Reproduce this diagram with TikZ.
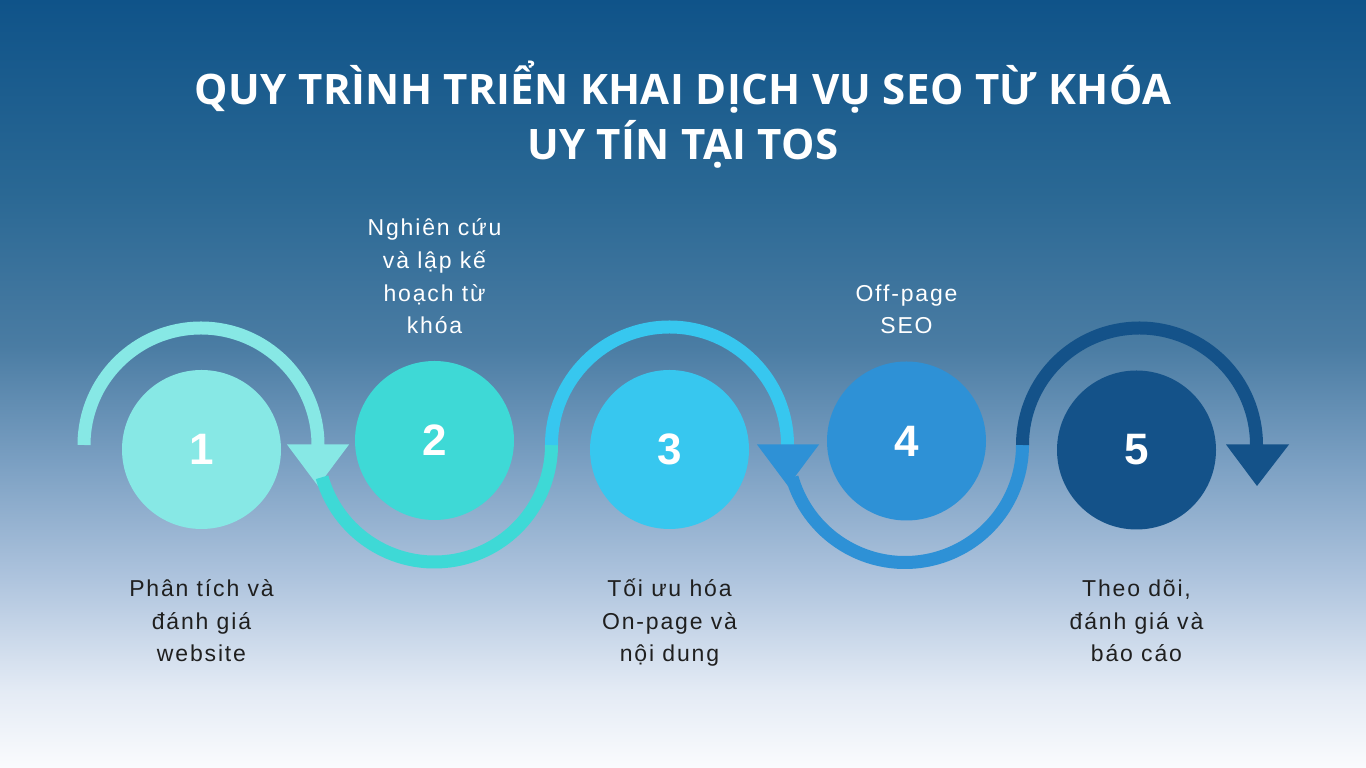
\documentclass[tikz,border=0pt]{standalone}
\usepackage{fontspec}
\setmainfont{Liberation Sans}
\newfontfamily\titlefont{Open Sans}[LetterSpace=1]
\newfontfamily\labelfont{Liberation Sans}[LetterSpace=8]
\definecolor{stepone}{HTML}{87E8E5}
\definecolor{steptwo}{HTML}{3ED9D6}
\definecolor{stepthree}{HTML}{37C7EF}
\definecolor{stepfour}{HTML}{2E91D6}
\definecolor{stepfive}{HTML}{145289}
\definecolor{labeltext}{HTML}{1F1F1F}
\definecolor{bgtop}{HTML}{0F5389}
\definecolor{bgfa}{HTML}{2A6894}
\definecolor{bgfb}{HTML}{4A7CA3}
\definecolor{bgfc}{HTML}{7A9FC2}
\definecolor{bgfd}{HTML}{ADC3DD}
\definecolor{bgfe}{HTML}{E4EBF5}
\definecolor{bgbot}{HTML}{FAFBFD}
\pgfdeclareverticalshading{backfade}{100bp}{color(0bp)=(bgbot); color(25bp)=(bgbot); color(30bp)=(bgfe); color(37.5bp)=(bgfd); color(45bp)=(bgfc); color(52.5bp)=(bgfb); color(62.5bp)=(bgfa); color(75bp)=(bgtop); color(100bp)=(bgtop)}
\tikzset{
  ring/.style={line width=13pt},
  disc/.style={circle, minimum size=159pt, inner sep=0pt, text=white, font=\fontsize{44}{44}\selectfont\bfseries},
  toplabel/.style={align=center, text=white, inner sep=0pt, anchor=base, font=\labelfont\fontsize{23}{32.7}\selectfont},
  botlabel/.style={toplabel, text=labeltext}
}
\begin{document}
\begin{tikzpicture}[x=1pt,y=1pt]
\useasboundingbox (0,0) rectangle (1366,768);
\shade[shading=backfade] (0,0) rectangle (1366,768);
\node[anchor=base, align=center, inner sep=0pt, text=white, font=\titlefont\bfseries\fontsize{42}{55}\selectfont] (title) at (683,608) {QUY TRÌNH TRIỂN KHAI DỊCH VỤ SEO TỪ KHÓA\\UY TÍN TẠI TOS};
% ring centres
\coordinate (r1) at (201,323);
\coordinate (r2) at (434.5,323);
\coordinate (r3) at (669.5,323);
\coordinate (r4) at (905,323);
\coordinate (r5) at (1139.5,323);
% rings and arrow heads
\draw[ring, stepone] (r1) ++(180:117) arc[start angle=180, end angle=0, radius=117];
\fill[stepone] (287,323.5) -- (349,323.5) -- (318,282) -- cycle;
\draw[ring, steptwo] (r2) ++(196:117) arc[start angle=196, end angle=360, radius=117];
\draw[ring, stepthree] (r3) ++(180:118) arc[start angle=180, end angle=0, radius=118];
\fill[stepfour] (757,323.5) -- (819,323.5) -- (788,282) -- cycle;
\draw[ring, stepfour] (r4) ++(196:117.5) arc[start angle=196, end angle=360, radius=117.5];
\draw[ring, stepfive] (r5) ++(180:117) arc[start angle=180, end angle=0, radius=117];
\fill[stepfive] (1226,323.5) -- (1289,323.5) -- (1257,282) -- cycle;
% steps
\node[disc, fill=stepone] (s1) at (201.5,318.5) {1};
\node[disc, fill=steptwo] (s2) at (434.5,327.5) {2};
\node[disc, fill=stepthree] (s3) at (669.5,318.5) {3};
\node[disc, fill=stepfour] (s4) at (906.5,327) {4};
\node[disc, fill=stepfive] (s5) at (1136.5,318) {5};
% texts (base = last line)
\node[toplabel] (t2) at (434.5,434) {Nghiên cứu\\và lập kế\\hoạch từ\\khóa};
\node[toplabel] (t4) at (906.5,434) {Off-page\\SEO};
\node[botlabel] (t1) at (201.5,106) {Phân tích và\\đánh giá\\website};
\node[botlabel] (t3) at (669.5,106) {Tối ưu hóa\\On-page và\\nội dung};
\node[botlabel] (t5) at (1136.5,106) {Theo dõi,\\đánh giá và\\báo cáo};
\end{tikzpicture}
\end{document}
